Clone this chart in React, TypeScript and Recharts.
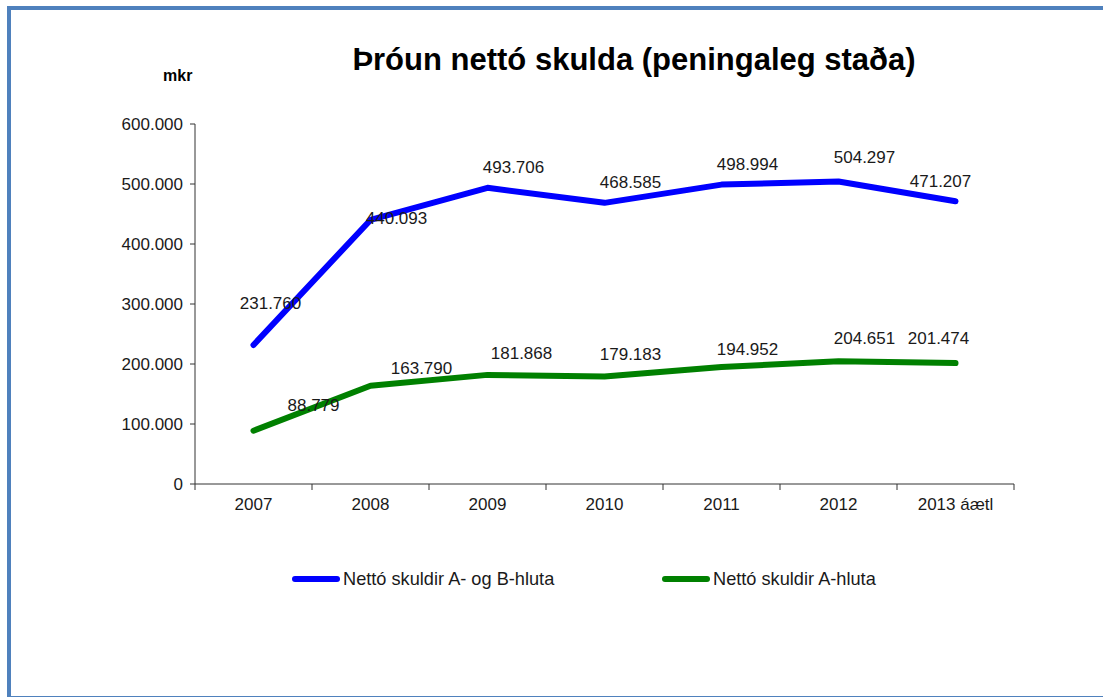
import React from "react";
import { LineChart, Line, XAxis, YAxis, LabelList } from "recharts";

const categories = ["2007", "2008", "2009", "2010", "2011", "2012", "2013 áætl"];
const seriesAB = [231760, 440093, 493706, 468585, 498994, 504297, 471207];
const seriesA = [88779, 163790, 181868, 179183, 194952, 204651, 201474];
const yTicks = [0, 100000, 200000, 300000, 400000, 500000, 600000];

const seriesNames = ["Nettó skuldir A- og B-hluta", "Nettó skuldir A-hluta"];
const seriesColors = ["#0000FF", "#008000"];

// label nudges (px) per point, mimicking the original placement
const labelDxAB = [17, 26, 26, 26, 26, 26, -15];
const labelDyAB = [-41, -1, -20, -20, -20, -24, -20];
const labelDxA = [60, 51, 34, 26, 26, 26, -17];
const labelDyA = [-25, -17, -21, -22, -18, -23, -25];

const FONT = "'Liberation Sans', Arial, sans-serif";
const AXIS = "#333333";

const fmt = (v: number) => String(Math.round(v)).replace(/\B(?=(\d{3})+(?!\d))/g, ".");

const data = categories.map((c, i) => ({
  pos: i + 0.5,
  name: c,
  ab: seriesAB[i],
  a: seriesA[i],
}));

const boundTicks = categories.map((_, i) => i).concat([categories.length]);
const centerTicks = categories.map((_, i) => i + 0.5);

const makeLabel = (dx: number[], dy: number[]) => (props: any) => {
  const { x, y, index, value } = props;
  return (
    <text
      x={x + dx[index]}
      y={y + dy[index]}
      textAnchor="middle"
      dominantBaseline="central"
      fontFamily={FONT}
      fontSize={17}
      fill="#1a1a1a"
    >
      {fmt(value)}
    </text>
  );
};

export default function App() {
  return (
    <div
      style={{
        position: "absolute",
        left: 0,
        top: 0,
        width: 1103,
        height: 698,
        background: "#fff",
        overflow: "hidden",
      }}
    >
      <div
        style={{
          position: "absolute",
          left: 7,
          top: 6,
          width: 1100,
          height: 691,
          boxSizing: "border-box",
          borderTop: "4px solid #4F81BD",
          borderLeft: "4px solid #4F81BD",
          borderBottom: "1px solid #4F81BD",
        }}
      />
      <div
        style={{
          position: "absolute",
          left: 334,
          width: 600,
          top: 40,
          textAlign: "center",
          fontFamily: FONT,
          fontWeight: "bold",
          fontSize: 31,
          lineHeight: "40px",
          color: "#000",
        }}
      >
        Þróun nettó skulda (peningaleg staða)
      </div>
      <div
        style={{
          position: "absolute",
          left: 163,
          top: 66,
          fontFamily: FONT,
          fontWeight: "bold",
          fontSize: 16,
          lineHeight: "20px",
          color: "#000",
        }}
      >
        mkr
      </div>
      <div style={{ position: "absolute", left: 0, top: 0 }}>
        <LineChart
          width={1103}
          height={698}
          data={data}
          margin={{ top: 124, right: 89, bottom: 183, left: 0 }}
        >
          <XAxis
            xAxisId="bounds"
            dataKey="pos"
            type="number"
            domain={[0, categories.length]}
            ticks={boundTicks}
            tickFormatter={() => ""}
            height={1}
            tickSize={6}
            stroke={AXIS}
            axisLine={{ stroke: AXIS, strokeWidth: 1 }}
            tickLine={{ stroke: AXIS }}
            interval={0}
            allowDataOverflow
          />
          <XAxis
            xAxisId="labels"
            dataKey="pos"
            type="number"
            domain={[0, categories.length]}
            ticks={centerTicks}
            tickFormatter={(v: number) => categories[Math.floor(v)]}
            height={30}
            axisLine={false}
            tickLine={false}
            tickSize={0}
            tickMargin={13}
            tick={{ fontFamily: FONT, fontSize: 17, fill: "#1a1a1a" }}
            interval={0}
          />
          <YAxis
            domain={[0, 600000]}
            ticks={yTicks}
            width={195}
            tickSize={5}
            tickMargin={7}
            tickFormatter={fmt}
            stroke={AXIS}
            axisLine={{ stroke: AXIS }}
            tickLine={{ stroke: AXIS }}
            tick={{ fontFamily: FONT, fontSize: 17, fill: "#1a1a1a" }}
            interval={0}
          />
          <Line
            xAxisId="bounds"
            dataKey="ab"
            stroke={seriesColors[0]}
            strokeWidth={6}
            strokeLinecap="round"
            strokeLinejoin="round"
            dot={false}
            isAnimationActive={false}
          >
            <LabelList dataKey="ab" content={makeLabel(labelDxAB, labelDyAB)} />
          </Line>
          <Line
            xAxisId="bounds"
            dataKey="a"
            stroke={seriesColors[1]}
            strokeWidth={6}
            strokeLinecap="round"
            strokeLinejoin="round"
            dot={false}
            isAnimationActive={false}
          >
            <LabelList dataKey="a" content={makeLabel(labelDxA, labelDyA)} />
          </Line>
        </LineChart>
      </div>
      {seriesNames.map((n, i) => (
        <div
          key={n}
          style={{
            position: "absolute",
            left: i === 0 ? 292 : 662,
            top: 568,
            height: 22,
            display: "flex",
            alignItems: "center",
            fontFamily: FONT,
            fontSize: 18.2,
            color: "#1a1a1a",
            whiteSpace: "nowrap",
          }}
        >
          <span
            style={{
              display: "inline-block",
              width: 48,
              height: 6,
              borderRadius: 3,
              background: seriesColors[i],
              marginRight: 3,
            }}
          />
          {n}
        </div>
      ))}
    </div>
  );
}
